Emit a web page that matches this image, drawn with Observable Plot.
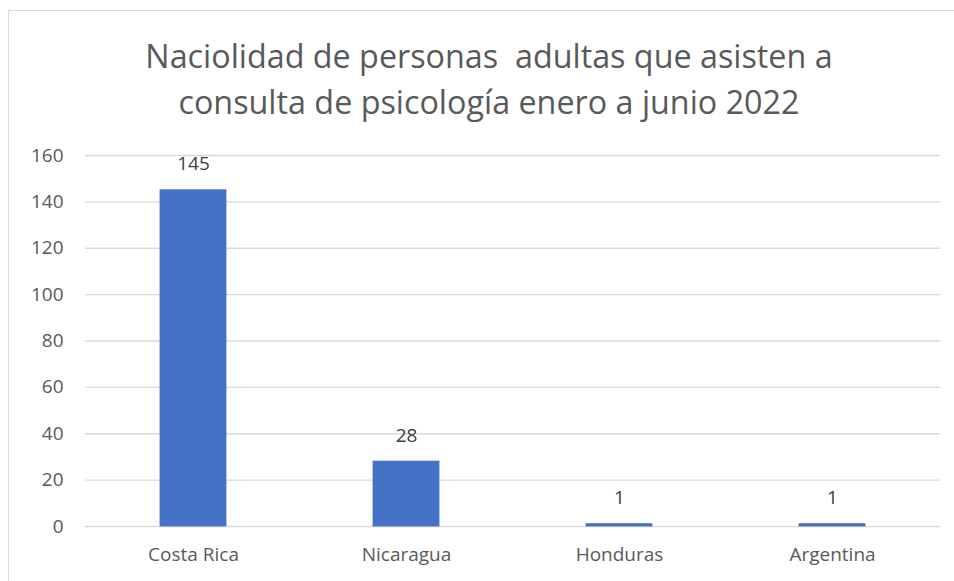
<!DOCTYPE html>
<html>
<head>
<meta charset="utf-8">
<script src="https://cdn.jsdelivr.net/npm/d3@7"></script>
<script src="https://cdn.jsdelivr.net/npm/@observablehq/plot@0.6"></script>
<style>
  html, body { margin: 0; padding: 0; background: #fff; }
  body { width: 954px; height: 581px; position: relative; overflow: hidden; font-family: "Open Sans", Lato, sans-serif; }
  #frame { position: absolute; left: 8px; top: 10px; width: 1100px; height: 700px; border: 1.5px solid #d9d9d9; box-sizing: border-box; }
  #title { position: absolute; left: 0; top: 32px; width: 978px; text-align: center; font-size: 32.3px; line-height: 46px; color: #595959; }
  #chart { position: absolute; left: 0; top: 130px; }
</style>
</head>
<body>
<div id="frame"></div>
<div id="title">Naciolidad de personas&nbsp; adultas que asisten a<br>consulta de psicología enero a junio 2022</div>
<div id="chart"></div>
<script>
const countries = ["Costa Rica", "Nicaragua", "Honduras", "Argentina"];
const counts = [145, 28, 1, 1];
const yTicks = [0, 20, 40, 60, 80, 100, 120, 140, 160];

const data = countries.map((c, i) => ({country: c, value: counts[i]}));

const chart = Plot.plot({
  width: 954,
  height: 451,
  marginTop: 25,
  marginBottom: 55,
  marginLeft: 85,
  marginRight: 14,
  style: {fontFamily: "'Open Sans', Lato, sans-serif", fontSize: "19px", color: "#595959", background: "transparent"},
  x: {domain: countries, paddingInner: 0.69, paddingOuter: 0.345, label: null, tickSize: 0, tickPadding: 21},
  y: {domain: [0, 160], ticks: yTicks, label: null, tickSize: 0, tickPadding: 22, grid: false},
  marks: [
    Plot.ruleY(yTicks, {stroke: "#d9d9d9", strokeWidth: 1.3, strokeOpacity: 1}),
    Plot.barY(data, {x: "country", y: "value", fill: "#4472c4", stroke: "#4472c4", strokeWidth: 0.8}),
    Plot.text(data, {x: "country", y: "value", text: d => String(d.value), dy: -26, fill: "#404040", fontSize: 19, lineAnchor: "middle"})
  ]
});
document.getElementById("chart").appendChild(chart);
</script>
</body>
</html>
